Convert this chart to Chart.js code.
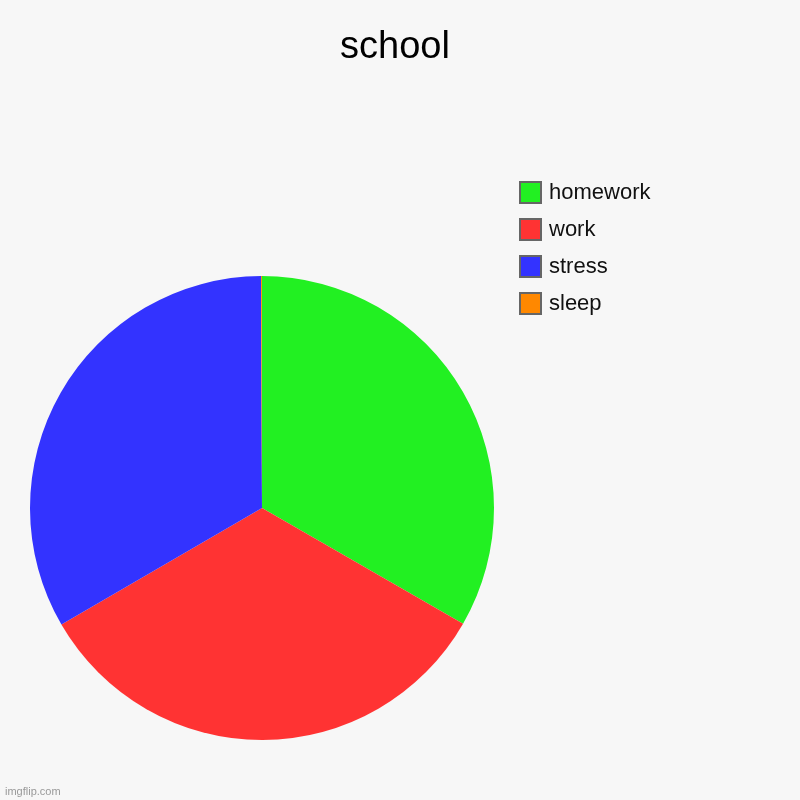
<!DOCTYPE html>
<html>
<head>
<meta charset="utf-8">
<script src="https://cdn.jsdelivr.net/npm/chart.js@4"></script>
<style>
  html, body { margin: 0; padding: 0; background: #f7f7f7; }
  #wrap { width: 800px; height: 800px; }
</style>
</head>
<body>
<div id="wrap"><canvas id="chart" width="800" height="800"></canvas></div>
<script>
const title = 'school';
const labels = ['homework', 'work', 'stress', 'sleep'];
const values = [100, 100, 100, 0.2];
const colors = ['#22f022', '#ff3333', '#3333ff', '#ff8800'];

const FONT = '"Liberation Sans", Arial, sans-serif';

// title, legend and watermark drawn by hand so they sit where the original has them
const overlay = {
    id: 'overlay',
    afterDraw: chart => {
        const ctx = chart.ctx;
        ctx.save();
        ctx.fillStyle = '#000';
        ctx.font = '38px ' + FONT;
        ctx.textAlign = 'center';
        ctx.textBaseline = 'middle';
        ctx.fillText(title, 395, 48);

        ctx.textAlign = 'left';
        chart.data.labels.forEach((label, i) => {
            const y = 182 + i * 37;
            ctx.fillStyle = chart.data.datasets[0].backgroundColor[i];
            ctx.fillRect(520, y, 21, 21);
            ctx.strokeStyle = '#666';
            ctx.lineWidth = 2;
            ctx.strokeRect(520, y, 21, 21);
            ctx.fillStyle = '#111';
            ctx.font = '22px ' + FONT;
            ctx.fillText(label, 549, y + 11);
        });

        ctx.fillStyle = '#999';
        ctx.font = '11px ' + FONT;
        ctx.textBaseline = 'alphabetic';
        ctx.fillText('imgflip.com', 5, 795);
        ctx.restore();
    }
};

new Chart(document.getElementById('chart').getContext('2d'), {
    type: 'pie',
    data: {
        labels: labels,
        datasets: [{
            data: values,
            backgroundColor: colors,
            borderWidth: 0
        }]
    },
    options: {
        responsive: false,
        animation: false,
        layout: { padding: { left: 30, right: 306, bottom: 60, top: 276 } },
        plugins: {
            legend: { display: false },
            tooltip: { enabled: false },
            title: { display: false }
        }
    },
    plugins: [overlay]
});
</script>
</body>
</html>
